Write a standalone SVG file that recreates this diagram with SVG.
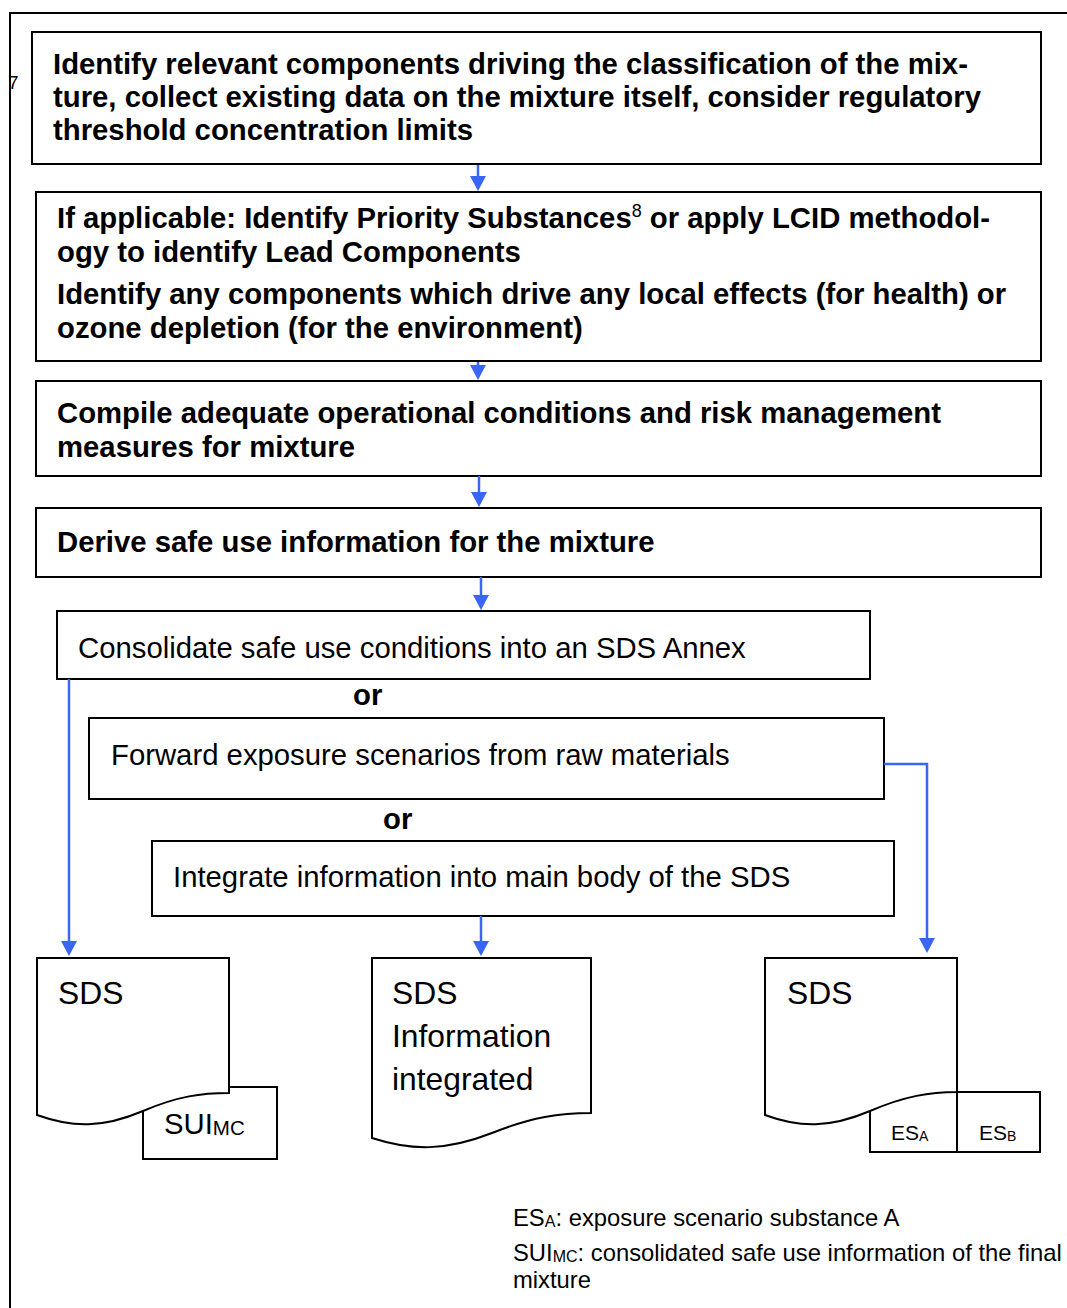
<svg xmlns="http://www.w3.org/2000/svg" width="1067" height="1308" viewBox="0 0 1067 1308">
<style>
.box{fill:#fff;stroke:#000;stroke-width:2}
.b{font-family:"Liberation Sans",Arial,sans-serif;font-weight:bold;font-size:29.3px;fill:#000}
.n{font-family:"Liberation Sans",Arial,sans-serif;font-size:29.3px;fill:#000}
.d{font-family:"Liberation Sans",Arial,sans-serif;font-size:31.8px;fill:#000}
.s{font-family:"Liberation Sans",Arial,sans-serif;font-size:21px;fill:#000}
.l{font-family:"Liberation Sans",Arial,sans-serif;font-size:23.8px;fill:#000}
.con{fill:none;stroke:#3a66f5;stroke-width:2.5;marker-end:url(#ah)}
</style>
<defs>
<marker id="ah" viewBox="0 0 15 16" refX="5" refY="8" markerWidth="15" markerHeight="16" markerUnits="userSpaceOnUse" orient="auto">
<path d="M0,0 L15,8 L0,16 z" fill="#3a66f5"/>
</marker>
</defs>
<rect width="1067" height="1308" fill="#fff"/>
<g id="frame">
<path d="M10,1308 V13 H1067" fill="none" stroke="#000" stroke-width="2"/>
<text x="8" y="89" font-family="Liberation Sans,Arial,sans-serif" font-size="19">7</text>
</g>
<g id="step1">
<rect class="box" x="32" y="32" width="1009" height="132"/>
<text class="b" x="53" y="74">Identify relevant components driving the classification of the mix-</text>
<text class="b" x="53" y="107">ture, collect existing data on the mixture itself, consider regulatory</text>
<text class="b" x="53" y="140">threshold concentration limits</text>
</g>
<g id="step2">
<rect class="box" x="36" y="192" width="1005" height="169"/>
<text class="b" x="57" y="228">If applicable: Identify Priority Substances<tspan font-size="18" font-weight="normal" dy="-11">8</tspan><tspan dy="11"> or apply LCID methodol-</tspan></text>
<text class="b" x="57" y="262">ogy to identify Lead Components</text>
<text class="b" x="57" y="304">Identify any components which drive any local effects (for health) or</text>
<text class="b" x="57" y="338">ozone depletion (for the environment)</text>
</g>
<g id="step3">
<rect class="box" x="36" y="381" width="1005" height="95"/>
<text class="b" x="57" y="423">Compile adequate operational conditions and risk management</text>
<text class="b" x="57" y="457">measures for mixture</text>
</g>
<g id="step4">
<rect class="box" x="36" y="508" width="1005" height="69"/>
<text class="b" x="57" y="552">Derive safe use information for the mixture</text>
</g>
<g id="opt1">
<rect class="box" x="57" y="611" width="813" height="68"/>
<text class="n" x="78" y="658">Consolidate safe use conditions into an SDS Annex</text>
</g>
<g id="or1"><text class="b" x="353" y="705">or</text></g>
<g id="opt2">
<rect class="box" x="89" y="718" width="795" height="81"/>
<text class="n" x="111" y="765">Forward exposure scenarios from raw materials</text>
</g>
<g id="or2"><text class="b" x="383" y="829">or</text></g>
<g id="opt3">
<rect class="box" x="152" y="841" width="742" height="75"/>
<text class="n" x="173" y="887">Integrate information into main body of the SDS</text>
</g>
<g id="doc1">
<rect class="box" x="143" y="1087" width="134" height="72"/>
<path class="box" d="M37,958 H229 V1093 C202,1093 178,1096 143,1111 C103,1128 73,1128 37,1115 Z"/>
<text class="d" x="58" y="1004">SDS</text>
<text class="n" x="164" y="1134">SUI<tspan font-size="20.5" dy="1">MC</tspan></text>
</g>
<g id="doc2">
<path class="box" d="M372,958 H591 V1113 C560,1113 532,1117 492,1133 C446,1151 412,1151 372,1138 Z"/>
<text class="d" x="392" y="1004">SDS</text>
<text class="d" x="392" y="1047">Information</text>
<text class="d" x="392" y="1090">integrated</text>
</g>
<g id="doc3">
<rect class="box" x="870" y="1092" width="87" height="60"/>
<rect class="box" x="957" y="1092" width="83" height="60"/>
<path class="box" d="M765,958 H957 V1092 C930,1092 905,1096 870,1111 C830,1128 800,1128 765,1115 Z"/>
<text class="d" x="787" y="1004">SDS</text>
<text class="s" x="891" y="1140">ES<tspan font-size="14" dy="1">A</tspan></text>
<text class="s" x="979" y="1140">ES<tspan font-size="14" dy="1">B</tspan></text>
</g>
<g id="legend">
<text class="l" x="513" y="1226">ES<tspan font-size="16" dy="1">A</tspan><tspan dy="-1">: exposure scenario substance A</tspan></text>
<text class="l" x="513" y="1261">SUI<tspan font-size="16" dy="1">MC</tspan><tspan dy="-1">: consolidated safe use information of the final</tspan></text>
<text class="l" x="513" y="1288">mixture</text>
</g>
<g id="connectors">
<path class="con" d="M478,165 V181"/>
<path class="con" d="M478,362 V370"/>
<path class="con" d="M479,476 V497"/>
<path class="con" d="M481,577 V600"/>
<path class="con" d="M69,679 V946"/>
<path class="con" d="M481,916 V946"/>
<path class="con" d="M884,764 H927 V943"/>
</g>
</svg>
